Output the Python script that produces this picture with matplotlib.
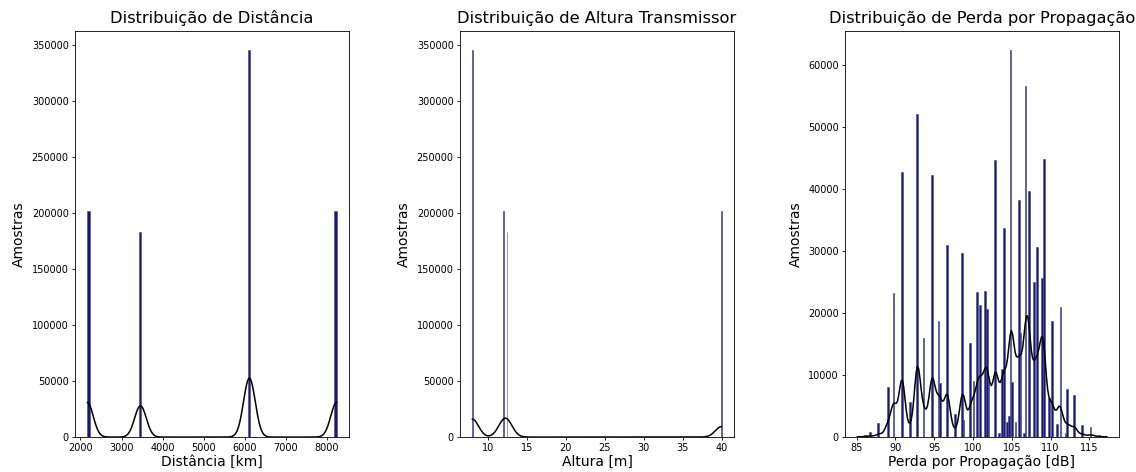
import numpy as np
import matplotlib
matplotlib.use("Agg")
import matplotlib.pyplot as plt
import seaborn as sns

# distancia (km) -> numero de amostras
dist_values = [2170, 3460, 6110, 8230]
dist_counts = [201800, 183100, 344900, 201800]

# altura do transmissor (m) -> numero de amostras
alt_values = [8, 12, 12.5, 40]
alt_counts = [344900, 201800, 183100, 201800]

# perda por propagacao (dB) -> numero de amostras
loss_values = [85.1, 86.0, 86.8, 87.9, 89.0, 89.8, 90.85, 91.85, 92.84, 93.7,
               94.73, 95.6, 95.8, 96.67, 97.66, 98.65, 98.86, 99.73, 100.0, 100.6,
               100.98, 101.6, 101.84, 102.1, 102.9, 103.3, 103.7, 104.0, 104.45, 104.7,
               104.92, 105.12, 105.5, 105.84, 106.19, 106.6, 106.83, 107.2, 107.87, 108.26,
               108.86, 109.07, 109.84, 110.15, 110.8, 111.19, 111.9, 112.2, 113.07, 114.1,
               115.2, 116.2, 117.2]
loss_counts = [150, 300, 740, 2250, 8050, 23200, 42770, 5730, 52060, 16040,
               42350, 18730, 8800, 30970, 3750, 29630, 2790, 15140, 9000, 23450,
               21300, 23610, 20600, 9000, 44770, 700, 11000, 33650, 2450, 3400,
               62360, 8950, 2500, 38200, 16750, 700, 56570, 39660, 24960, 30600,
               25600, 44930, 6380, 18730, 2140, 20930, 700, 7730, 6810, 1980,
               1610, 400, 150]

panels = [
    (dist_values, dist_counts, "Distribuição de Distância", "Distância [km]"),
    (alt_values, alt_counts, "Distribuição de Altura Transmissor", "Altura [m]"),
    (loss_values, loss_counts, "Distribuição de Perda por Propagação", "Perda por Propagação [dB]"),
]

fig, axes = plt.subplots(1, 3, figsize=(11.36, 4.72), dpi=100)
fig.subplots_adjust(left=0.066, right=0.985, bottom=0.074, top=0.934, wspace=0.405)

for ax, (vals, counts, title, xlabel) in zip(axes, panels):
    # reconstroi as amostras a partir das contagens
    samples = np.repeat(np.asarray(vals, dtype=float), counts)
    sns.histplot(samples, kde=True, color="midnightblue", alpha=1.0,
                 edgecolor="#4a4a8c", linewidth=0.4, ax=ax)
    ax.lines[0].set_color("black")
    ax.lines[0].set_linewidth(1.1)
    ax.set_title(title, fontsize=11.7)
    ax.set_xlabel(xlabel, fontsize=10, labelpad=1)
    ax.set_ylabel("Amostras", fontsize=10)
    ax.tick_params(labelsize=7, length=2.5, width=0.6, pad=2)
    for s in ax.spines.values():
        s.set_linewidth(0.6)

axes[0].set_xticks(range(2000, 8001, 1000))
axes[1].set_xticks(range(10, 41, 5))
axes[2].set_xticks(range(85, 116, 5))

plt.savefig("out.png", dpi=100)
